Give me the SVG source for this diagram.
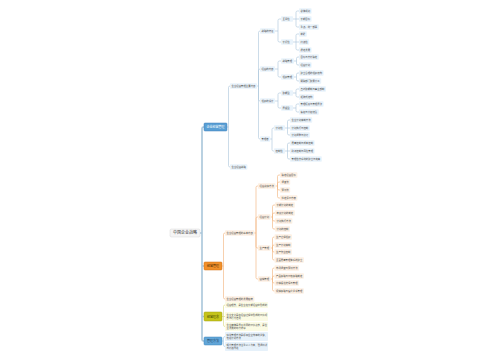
<svg xmlns="http://www.w3.org/2000/svg" width="500" height="360" viewBox="0 0 500 360">
<style>
text{font-family:"Noto Sans CJK SC","Noto Sans",sans-serif;font-size:2.4px;fill:#4a4a4a}
.c{fill:none;stroke-width:0.6}
.c0{fill:none;stroke:#a9c6da;stroke-width:1.6}
.c1{stroke:#a9c5da}.c2{stroke:#f2b077}.c3{stroke:#d6d67a}.c4{stroke:#9cc6e4}
.l1{fill:#e9f3fb}.l2{fill:#fdf0e3}.l3{fill:#fbfbe4}.l4{fill:#e6f1fa}
.bt{font-size:3px;text-anchor:middle}
</style>
<rect width="500" height="360" fill="#ffffff"/>
<g id="connectors">
<path class="c0" d="M200 233 H202 M204 127 H203.5 Q202 127 202 128.5 V339.5 Q202 341 203.5 341 H204 M202 266 H204 M202 316.5 H204"/>
<path class="c c1" d="M227 127 H228.5 V87.5 Q228.5 86 230 86 M228.5 127 V165.5 Q228.5 167 230 167
M257 86 H258.5 M258.5 86 V32.5 Q258.5 31 260 31 M258.5 86 V70.5 Q258.5 69 260 69 M258.5 86 V99.5 Q258.5 101 260 101 M258.5 86 V137.5 Q258.5 139 260 139
M275 31 H278 V20.5 Q278 19 279.5 19 H281 M278 31 V40.5 Q278 42 279.5 42 H281
M293 19 H296 V12.5 Q296 11 297.5 11 H299 M296 19 H299 M296 19 V25.5 Q296 27 297.5 27 H299
M293 42 H296 V35.5 Q296 34 297.5 34 H299 M296 42 H299 M296 42 V48.5 Q296 50 297.5 50 H299
M275 69 H278 V62.5 Q278 61 279.5 61 H281 M278 69 V75.5 Q278 77 279.5 77 H281
M294 61 H296.5 V58.5 Q296.5 57 298 57 H299 M296.5 61 V63.5 Q296.5 65 298 65 H299
M294 77 H296.5 V74.5 Q296.5 73 298 73 H299 M296.5 77 V79.5 Q296.5 81 298 81 H299
M275 101 H278 V94.5 Q278 93 279.5 93 H281 M278 101 V106.5 Q278 108 279.5 108 H281
M293 93 H296 V90.5 Q296 89 297.5 89 H299 M296 93 V95.5 Q296 97 297.5 97 H299
M293 108 H296 V105.5 Q296 104 297.5 104 H299 M296 108 V110.5 Q296 112 297.5 112 H299
M270 139 H272 V129.5 Q272 128 273.5 128 H274 M272 139 V149.5 Q272 151 273.5 151 H274
M285 128 H287.5 V121.5 Q287.5 120 289 120 H290 M287.5 128 H290 M287.5 128 V133.5 Q287.5 135 289 135 H290
M285 151 H287.5 V144.5 Q287.5 143 289 143 H290 M287.5 151 H290 M287.5 151 V157.5 Q287.5 159 289 159 H290"/>
<path class="c c2" d="M222 266 H223.5 V234.5 Q223.5 233 225 233 M223.5 266 V297.5 Q223.5 299 225 299
M254 233 H256 M256 233 V187.5 Q256 186 257.5 186 H258 M256 233 V218.5 Q256 217 257.5 217 H258 M256 233 V246.5 Q256 248 257.5 248 H258 M256 233 V277.5 Q256 279 257.5 279 H258
M275.4 186 H277.5 V176.5 Q277.5 175 279 175 H280 M277.5 186 V183.5 Q277.5 182 279 182 H280 M277.5 186 V188.5 Q277.5 190 279 190 H280 M277.5 186 V196.5 Q277.5 198 279 198 H280
M270.6 217 H272.5 V206.5 Q272.5 205 274 205 H275 M272.5 217 V214.5 Q272.5 213 274 213 H275 M272.5 217 V219.5 Q272.5 221 274 221 H275 M272.5 217 V227.5 Q272.5 229 274 229 H275
M270.6 248 H272.5 V238.5 Q272.5 237 274 237 H274.5 M272.5 248 V246.5 Q272.5 245 274 245 H274.5 M272.5 248 V250.5 Q272.5 252 274 252 H274.5 M272.5 248 V258.5 Q272.5 260 274 260 H274.5
M270.6 279 H272.5 V269.5 Q272.5 268 274 268 H274.5 M272.5 279 V277.5 Q272.5 276 274 276 H274.5 M272.5 279 V281.5 Q272.5 283 274 283 H274.5 M272.5 279 V289.5 Q272.5 291 274 291 H274.5"/>
<path class="c c3" d="M222 316.5 H225 M223.5 316.5 V306.5 Q223.5 305 225 305 M223.5 316.5 V325 Q223.5 326.5 225 326.5"/>
<path class="c c4" d="M222 341 H223.5 V338 Q223.5 336.5 225 336.5 M223.5 341 V345 Q223.5 346.5 225 346.5"/>
</g>
<g id="root"><rect x="170" y="229" width="30" height="8" rx="1.5" fill="#f5f5f5" stroke="#d0d0d0" stroke-width="0.4"/><text x="185" y="234.4" style="font-size:4px;text-anchor:middle;fill:#333">中国企业战略</text></g>
<g id="b1"><rect x="204" y="123" width="23" height="8" rx="1" fill="#5a9fd4" stroke="#3c7fb8" stroke-width="0.5"/><text class="bt" x="215.5" y="128.1" style="fill:#ffffff">企业经营管理</text></g>
<g id="b1-n1"><rect class="l1" x="230" y="83.2" width="27" height="5.6" rx="0.8"/><text x="231.5" y="86.85">企业经营管理主要内容</text></g>
<g id="b1-n2"><rect class="l1" x="230" y="164.2" width="17.4" height="5.6" rx="0.8"/><text x="231.5" y="167.85">企业经营战略</text></g>
<g id="b1-a"><rect class="l1" x="260" y="28.2" width="15" height="5.6" rx="0.8"/><text x="261.5" y="31.85">战略的特征</text></g>
<g id="b1-a1"><rect class="l1" x="281" y="16.2" width="12" height="5.6" rx="0.8"/><text x="282.5" y="19.85">全局性</text></g>
<g id="b1-a1-1"><rect class="l1" x="299" y="8.2" width="12.6" height="5.6" rx="0.8"/><text x="300.5" y="11.85">总体规划</text></g>
<g id="b1-a1-2"><rect class="l1" x="299" y="16.2" width="12.6" height="5.6" rx="0.8"/><text x="300.5" y="19.85">长期目标</text></g>
<g id="b1-a1-3"><rect class="l1" x="299" y="24.2" width="19.8" height="5.6" rx="0.8"/><text x="300.5" y="27.85">重点、统一部署</text></g>
<g id="b1-a2"><rect class="l1" x="281" y="39.2" width="12" height="5.6" rx="0.8"/><text x="282.5" y="42.85">长远性</text></g>
<g id="b1-a2-1"><rect class="l1" x="299" y="31.2" width="7.8" height="5.6" rx="0.8"/><text x="300.5" y="34.85">前瞻</text></g>
<g id="b1-a2-2"><rect class="l1" x="299" y="39.2" width="10.2" height="5.6" rx="0.8"/><text x="300.5" y="42.85">持续性</text></g>
<g id="b1-a2-3"><rect class="l1" x="299" y="47.2" width="12.6" height="5.6" rx="0.8"/><text x="300.5" y="50.85">稳定发展</text></g>
<g id="b1-b"><rect class="l1" x="260" y="66.2" width="15" height="5.6" rx="0.8"/><text x="261.5" y="69.85">经营的内容</text></g>
<g id="b1-b1"><rect class="l1" x="281" y="58.2" width="13" height="5.6" rx="0.8"/><text x="282.5" y="61.85">战略管理</text></g>
<g id="b1-b1-1"><rect class="l1" x="299" y="54.2" width="19.8" height="5.6" rx="0.8"/><text x="300.5" y="57.85">目标与方针确定</text></g>
<g id="b1-b1-2"><rect class="l1" x="299" y="62.2" width="12.6" height="5.6" rx="0.8"/><text x="300.5" y="65.85">经营计划</text></g>
<g id="b1-b2"><rect class="l1" x="281" y="74.2" width="13" height="5.6" rx="0.8"/><text x="282.5" y="77.85">组织管理</text></g>
<g id="b1-b2-1"><rect class="l1" x="299" y="70.2" width="24.6" height="5.6" rx="0.8"/><text x="300.5" y="73.85">建立合理的组织结构</text></g>
<g id="b1-b2-2"><rect class="l1" x="299" y="78.2" width="22.2" height="5.6" rx="0.8"/><text x="300.5" y="81.85">明确部门职责分工</text></g>
<g id="b1-c"><rect class="l1" x="260" y="98.2" width="15" height="5.6" rx="0.8"/><text x="261.5" y="101.85">组织的设计</text></g>
<g id="b1-c1"><rect class="l1" x="281" y="90.2" width="12" height="5.6" rx="0.8"/><text x="282.5" y="93.85">职能型</text></g>
<g id="b1-c1-1"><rect class="l1" x="299" y="86.2" width="27" height="5.6" rx="0.8"/><text x="300.5" y="89.85">直线职能制与事业部制</text></g>
<g id="b1-c1-2"><rect class="l1" x="299" y="94.2" width="15" height="5.6" rx="0.8"/><text x="300.5" y="97.85">矩阵式结构</text></g>
<g id="b1-c2"><rect class="l1" x="281" y="105.2" width="12" height="5.6" rx="0.8"/><text x="282.5" y="108.85">层级型</text></g>
<g id="b1-c2-1"><rect class="l1" x="299" y="101.2" width="24.6" height="5.6" rx="0.8"/><text x="300.5" y="104.85">管理幅度与管理层次</text></g>
<g id="b1-c2-2"><rect class="l1" x="299" y="109.2" width="19.8" height="5.6" rx="0.8"/><text x="300.5" y="112.85">集权与分权结合</text></g>
<g id="b1-d"><rect class="l1" x="260" y="136.2" width="10.2" height="5.6" rx="0.8"/><text x="261.5" y="139.85">管理者</text></g>
<g id="b1-d1"><rect class="l1" x="274" y="125.2" width="11" height="5.6" rx="0.8"/><text x="275.5" y="128.85">计划性</text></g>
<g id="b1-d1-1"><rect class="l1" x="290" y="117.2" width="22.2" height="5.6" rx="0.8"/><text x="291.5" y="120.85">企业计划编制方法</text></g>
<g id="b1-d1-2"><rect class="l1" x="290" y="125.2" width="19.8" height="5.6" rx="0.8"/><text x="291.5" y="128.85">计划执行与控制</text></g>
<g id="b1-d1-3"><rect class="l1" x="290" y="132.2" width="19.8" height="5.6" rx="0.8"/><text x="291.5" y="135.85">计划调整与修订</text></g>
<g id="b1-d2"><rect class="l1" x="274" y="148.2" width="11" height="5.6" rx="0.8"/><text x="275.5" y="151.85">控制性</text></g>
<g id="b1-d2-1"><rect class="l1" x="290" y="140.2" width="24.6" height="5.6" rx="0.8"/><text x="291.5" y="143.85">质量控制与成本控制</text></g>
<g id="b1-d2-2"><rect class="l1" x="290" y="148.2" width="24.6" height="5.6" rx="0.8"/><text x="291.5" y="151.85">财务控制与风险管理</text></g>
<g id="b1-d2-3"><rect class="l1" x="290" y="156.2" width="31.8" height="5.6" rx="0.8"/><text x="291.5" y="159.85">管理信息系统的建立与完善</text></g>
<g id="b2"><rect x="204" y="262" width="18" height="8" rx="1" fill="#f0902a" stroke="#d06c12" stroke-width="0.5"/><text class="bt" x="213" y="267.1" style="fill:#4a2500">经营管理</text></g>
<g id="b2-o1"><rect class="l2" x="225" y="230.2" width="29.4" height="5.6" rx="0.8"/><text x="226.5" y="233.85">企业经营管理的基本内容</text></g>
<g id="b2-o2"><rect class="l2" x="225" y="296.2" width="29.4" height="5.6" rx="0.8"/><text x="226.5" y="299.85">企业经营管理的发展趋势</text></g>
<g id="b2-p1"><rect class="l2" x="258" y="183.2" width="17.4" height="5.6" rx="0.8"/><text x="259.5" y="186.85">经营决策方法</text></g>
<g id="b2-p1-1"><rect class="l2" x="280" y="172.2" width="17.4" height="5.6" rx="0.8"/><text x="281.5" y="175.85">确定经营目标</text></g>
<g id="b2-p1-2"><rect class="l2" x="280" y="179.2" width="10.2" height="5.6" rx="0.8"/><text x="281.5" y="182.85">调查法</text></g>
<g id="b2-p1-3"><rect class="l2" x="280" y="187.2" width="10.2" height="5.6" rx="0.8"/><text x="281.5" y="190.85">预测法</text></g>
<g id="b2-p1-4"><rect class="l2" x="280" y="195.2" width="17.4" height="5.6" rx="0.8"/><text x="281.5" y="198.85">拟定评价方案</text></g>
<g id="b2-p2"><rect class="l2" x="258" y="214.2" width="12.6" height="5.6" rx="0.8"/><text x="259.5" y="217.85">经营计划</text></g>
<g id="b2-p2-1"><rect class="l2" x="275" y="202.2" width="19.8" height="5.6" rx="0.8"/><text x="276.5" y="205.85">长期计划的制定</text></g>
<g id="b2-p2-2"><rect class="l2" x="275" y="210.2" width="19.8" height="5.6" rx="0.8"/><text x="276.5" y="213.85">年度计划的制定</text></g>
<g id="b2-p2-3"><rect class="l2" x="275" y="218.2" width="17.4" height="5.6" rx="0.8"/><text x="276.5" y="221.85">计划执行方法</text></g>
<g id="b2-p2-4"><rect class="l2" x="275" y="226.2" width="15" height="5.6" rx="0.8"/><text x="276.5" y="229.85">计划的控制</text></g>
<g id="b2-p3"><rect class="l2" x="258" y="245.2" width="12.6" height="5.6" rx="0.8"/><text x="259.5" y="248.85">生产管理</text></g>
<g id="b2-p3-1"><rect class="l2" x="274.5" y="234.2" width="17.4" height="5.6" rx="0.8"/><text x="276" y="237.85">生产过程组织</text></g>
<g id="b2-p3-2"><rect class="l2" x="274.5" y="242.2" width="17.4" height="5.6" rx="0.8"/><text x="276" y="245.85">生产计划编制</text></g>
<g id="b2-p3-3"><rect class="l2" x="274.5" y="249.2" width="17.4" height="5.6" rx="0.8"/><text x="276" y="252.85">生产作业控制</text></g>
<g id="b2-p3-4"><rect class="l2" x="274.5" y="257.2" width="29.4" height="5.6" rx="0.8"/><text x="276" y="260.85">全面质量管理体系的建立</text></g>
<g id="b2-p4"><rect class="l2" x="258" y="276.2" width="12.6" height="5.6" rx="0.8"/><text x="259.5" y="279.85">营销管理</text></g>
<g id="b2-p4-1"><rect class="l2" x="274.5" y="265.2" width="24.6" height="5.6" rx="0.8"/><text x="276" y="268.85">市场调查与预测方法</text></g>
<g id="b2-p4-2"><rect class="l2" x="274.5" y="273.2" width="29.4" height="5.6" rx="0.8"/><text x="276" y="276.85">产品策略与价格策略制定</text></g>
<g id="b2-p4-3"><rect class="l2" x="274.5" y="280.2" width="24.6" height="5.6" rx="0.8"/><text x="276" y="283.85">分销渠道选择与管理</text></g>
<g id="b2-p4-4"><rect class="l2" x="274.5" y="288.2" width="29.4" height="5.6" rx="0.8"/><text x="276" y="291.85">促销策略与客户关系管理</text></g>
<g id="b3"><rect x="204" y="312" width="18" height="9" rx="1" fill="#c5c41a" stroke="#a3a210" stroke-width="0.5"/><text class="bt" x="213" y="317.6" style="fill:#3a3a00">经营理念</text></g>
<g id="b3-1"><rect class="l3" x="225" y="302" width="43" height="6" rx="0.8"/><text x="226.5" y="305.85">经营理念，是企业在长期经营中形成的</text></g>
<g id="b3-2"><rect class="l3" x="225" y="312" width="43" height="9" rx="0.8"/><text x="226.5" y="315.6">企业文化是在经营过程中形成的价值观</text><text x="226.5" y="319">念与行为准则</text></g>
<g id="b3-3"><rect class="l3" x="225" y="322" width="43" height="9" rx="0.8"/><text x="226.5" y="325.6">企业精神是员工共同的价值追求，是企</text><text x="226.5" y="329">业发展的动力源泉</text></g>
<g id="b4"><rect x="204" y="337" width="18" height="8" rx="1" fill="#62a6d8" stroke="#3f86bf" stroke-width="0.5"/><text class="bt" x="213" y="342.1" style="fill:#163a5a">管理方法</text></g>
<g id="b4-1"><rect class="l4" x="225" y="332" width="43" height="9" rx="0.8"/><text x="226.5" y="335.6">科学管理方法是提高企业效率的关键，</text><text x="226.5" y="339">包括计划方法</text></g>
<g id="b4-2"><rect class="l4" x="225" y="342" width="43" height="9" rx="0.8"/><text x="226.5" y="345.6">现代管理方法注重以人为本，强调创新</text><text x="226.5" y="349">与持续改进</text></g>
</svg>
